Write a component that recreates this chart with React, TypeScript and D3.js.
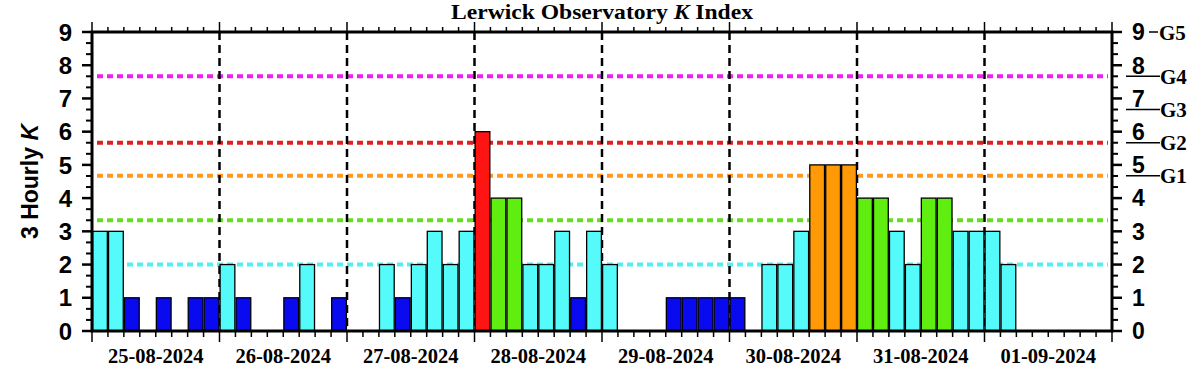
import React from "react";
import * as d3 from "d3";

const dayLabels = [
  "25-08-2024", "26-08-2024", "27-08-2024", "28-08-2024",
  "29-08-2024", "30-08-2024", "31-08-2024", "01-09-2024",
];

// 3-hourly K values, 8 per day; null = not yet available
const kDay25 = [3, 3, 1, 0, 1, 0, 1, 1];
const kDay26 = [2, 1, 0, 0, 1, 2, 0, 1];
const kDay27 = [0, 0, 2, 1, 2, 3, 2, 3];
const kDay28 = [6, 4, 4, 2, 2, 3, 1, 3];
const kDay29 = [2, 0, 0, 0, 1, 1, 1, 1];
const kDay30 = [1, 0, 2, 2, 3, 5, 5, 5];
const kDay31 = [4, 4, 3, 2, 4, 4, 3, 3];
const kDay01 = [3, 2, null, null, null, null, null, null];

const kValues: (number | null)[] = [
  ...kDay25, ...kDay26, ...kDay27, ...kDay28,
  ...kDay29, ...kDay30, ...kDay31, ...kDay01,
];

const yTicks = [0, 1, 2, 3, 4, 5, 6, 7, 8, 9];

// threshold dotted lines
const thresholdValues = [2, 3.33, 4.67, 5.67, 7.67];
const thresholdColors = ["#55eeee", "#66dd22", "#ff9922", "#dd2222", "#ee22ee"];

// storm scale labels on right axis
const gLabels = ["G1", "G2", "G3", "G4"];
const gLevels = [5, 6, 7, 8];
const gLineValues = [4.67, 5.67, 6.67, 7.67];

const barColor = (k: number) => {
  if (k <= 1) return "#0a0af0";
  if (k <= 3) return "#55fbfb";
  if (k === 4) return "#5fee10";
  if (k === 5) return "#ff9a06";
  if (k === 6) return "#ff1414";
  if (k === 7) return "#dd2222";
  return "#ee22ee";
};

const SANS = "'Liberation Sans', Arial, sans-serif";
const SERIF = "'Liberation Serif', 'Times New Roman', serif";

export default function App() {
  const left = 92, right = 1112, top = 32, bottom = 331;
  const slotsPerDay = 8;
  const nSlots = dayLabels.length * slotsPerDay;
  const x = d3.scaleLinear().domain([0, nSlots]).range([left, right]);
  const y = d3.scaleLinear().domain([0, 9]).range([bottom, top]);
  const slotW = x(1) - x(0);

  const minorY = d3.range(0, 27 + 1).map((i) => i / 3).filter((v) => Math.abs(v - Math.round(v)) > 1e-6);
  const slotTicks = d3.range(0, nSlots + 1);

  return (
    <svg width={1202} height={375} style={{ position: "absolute", left: 0, top: 0, background: "#fff" }}>
      {/* title */}
      <text x={(left + right) / 2} y={19} textAnchor="middle" fontFamily={SERIF} fontWeight="bold" fontSize={21}
        textLength={302} lengthAdjust="spacingAndGlyphs">
        Lerwick Observatory <tspan fontStyle="italic">K</tspan> Index
      </text>

      {/* threshold lines */}
      {thresholdValues.map((v, i) => (
        <line key={"th" + i} x1={left + 5} x2={right - 4} y1={y(v)} y2={y(v)}
          stroke={thresholdColors[i]} strokeWidth={4} strokeDasharray="6 4" />
      ))}

      {/* day separators */}
      {d3.range(1, dayLabels.length).map((d) => (
        <line key={"ds" + d} x1={x(d * slotsPerDay)} x2={x(d * slotsPerDay)} y1={top} y2={bottom}
          stroke="#000" strokeWidth={2.5} strokeDasharray="8 5" />
      ))}

      {/* bars */}
      {kValues.map((k, i) =>
        k === null || k === 0 ? null : (
          <rect key={"b" + i} x={x(i) + 0.6} y={y(k)} width={slotW - 1.2} height={y(0) - y(k)}
            fill={barColor(k)} stroke="#000" strokeWidth={1.3} />
        )
      )}

      {/* frame */}
      <rect x={left} y={top} width={right - left} height={bottom - top} fill="none" stroke="#000" strokeWidth={3} />

      {/* left & right y ticks */}
      {yTicks.map((t) => (
        <g key={"yt" + t}>
          <line x1={left - 10} x2={left} y1={y(t)} y2={y(t)} stroke="#000" strokeWidth={2.5} />
          <line x1={right} x2={right + 10} y1={y(t)} y2={y(t)} stroke="#000" strokeWidth={2.5} />
          <text x={72} y={y(t)} dy="0.36em" textAnchor="end" fontFamily={SANS} fontWeight="bold" fontSize={24}>{t}</text>
          {t <= 4 && (
            <text x={1132} y={y(t)} dy="0.36em" textAnchor="start" fontFamily={SANS} fontWeight="bold" fontSize={23}>{t}</text>
          )}
        </g>
      ))}
      {minorY.map((v, i) => (
        <g key={"my" + i}>
          <line x1={left - 6} x2={left} y1={y(v)} y2={y(v)} stroke="#000" strokeWidth={2} />
          <line x1={right} x2={right + 6} y1={y(v)} y2={y(v)} stroke="#000" strokeWidth={2} />
        </g>
      ))}

      {/* right axis storm labels */}
      <text x={1132} y={y(9)} dy="0.36em" fontFamily={SANS} fontWeight="bold" fontSize={23}>9</text>
      <line x1={1149} x2={1158} y1={y(9)} y2={y(9)} stroke="#000" strokeWidth={1.5} />
      <text x={1159} y={y(9)} dy="0.36em" fontFamily={SERIF} fontWeight="bold" fontSize={21}>G5</text>
      {gLevels.map((lv, i) => (
        <g key={"g" + i}>
          <text x={1132} y={y(lv)} dy="0.36em" fontFamily={SANS} fontWeight="bold" fontSize={23}>{lv}</text>
          <line x1={1126} x2={1160} y1={y(gLineValues[i])} y2={y(gLineValues[i])} stroke="#000" strokeWidth={1.5} />
          <text x={1160} y={y(gLineValues[i])} dy="0.36em" fontFamily={SERIF} fontWeight="bold" fontSize={21}>{gLabels[i]}</text>
        </g>
      ))}

      {/* top & bottom x ticks */}
      {slotTicks.map((s) => {
        const isDay = s % slotsPerDay === 0;
        return (
          <g key={"xt" + s}>
            <line x1={x(s)} x2={x(s)} y1={top} y2={top - (isDay ? 10 : 5)} stroke="#000" strokeWidth={1.5} />
            <line x1={x(s)} x2={x(s)} y1={bottom} y2={bottom + (isDay ? 11 : 6)} stroke="#000" strokeWidth={1.5} />
          </g>
        );
      })}

      {/* day labels */}
      {dayLabels.map((d, i) => (
        <text key={"dl" + i} x={x(i * slotsPerDay + slotsPerDay / 2)} y={363} textAnchor="middle"
          fontFamily={SERIF} fontWeight="bold" fontSize={20.5}>{d}</text>
      ))}

      {/* y axis title */}
      <text transform={`translate(38, ${(top + bottom) / 2}) rotate(-90)`} textAnchor="middle"
        fontFamily={SANS} fontWeight="bold" fontSize={23}>
        3 Hourly <tspan fontStyle="italic">K</tspan>
      </text>
    </svg>
  );
}
